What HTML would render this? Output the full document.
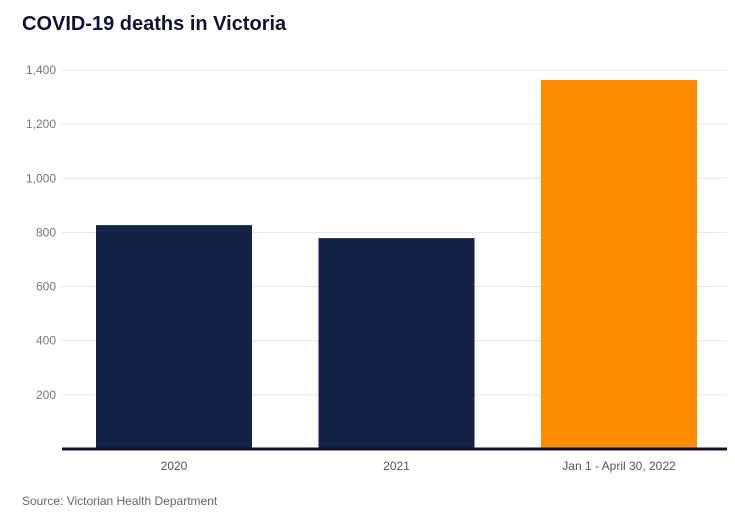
<!DOCTYPE html>
<html><head><meta charset="utf-8"><style>
body{margin:0;width:735px;height:512px;background:#fff;font-family:"Liberation Sans",sans-serif;overflow:hidden}
</style></head><body>
<svg width="735" height="512">
<text x="22" y="30" font-size="20" font-weight="bold" fill="#0d1333">COVID-19 deaths in Victoria</text>
<g id="grid"></g><g id="bars"></g>
<line x1="62" x2="727" y1="449" y2="449" stroke="#0d1333" stroke-width="3"/>
<text x="22" y="505" font-size="12" fill="#666">Source: Victorian Health Department</text>
</svg>
<script>
const categories=["2020","2021","Jan 1 - April 30, 2022"];
const values=[827,779,1363];
const colors=["#142245","#142245","#ff8c00"];
const ticks=[200,400,600,800,1000,1200,1400];
const tickLabels=["200","400","600","800","1,000","1,200","1,400"];
const ns="http://www.w3.org/2000/svg";
const y=v=>449-v*(379/1400);
const x=i=>96+i*222.5;
const g=document.getElementById('grid'),b=document.getElementById('bars');
function mk(t,a,p){const e=document.createElementNS(ns,t);for(const k in a)e.setAttribute(k,a[k]);p.appendChild(e);return e;}
ticks.forEach((t,i)=>{
 const l=mk('line',{x1:62,x2:727,y1:y(t),y2:y(t),stroke:'#e6e6e6'},g);
 
 
 const tx=mk('text',{x:56,y:y(t)+4,'font-size':12,fill:'#777','text-anchor':'end'},g);
 tx.textContent=tickLabels[i];
 
 
});
values.forEach((v,i)=>{
 const r=mk('rect',{x:x(i),y:y(v),width:156,height:449-y(v),fill:colors[i]},b);
 
 
 const tx=mk('text',{x:x(i)+78,y:470,'font-size':12,fill:'#555','text-anchor':'middle'},b);
 tx.textContent=categories[i];
 
 
});
</script>
</body></html>
